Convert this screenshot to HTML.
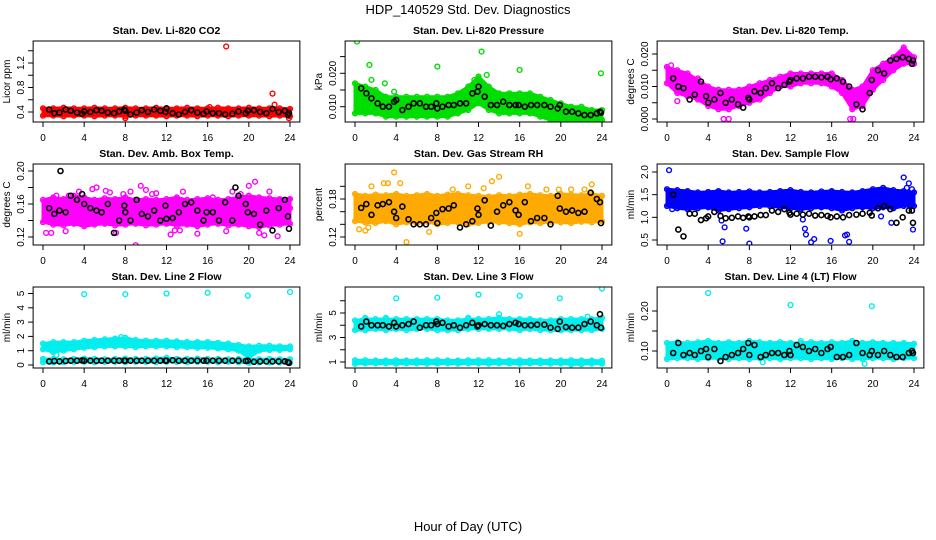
<!DOCTYPE html>
<html><head><meta charset="utf-8">
<style>
html,body{margin:0;padding:0;background:#fff;}
svg{display:block;font-family:"Liberation Sans",Arial,sans-serif;}
</style></head>
<body>
<svg id="chart" width="936" height="540" viewBox="0 0 936 540">
<rect x="0" y="0" width="936" height="540" fill="#fff"/>
<text x="468" y="14" font-size="13" text-anchor="middle">HDP_140529  Std. Dev. Diagnostics</text>
<text x="468" y="531" font-size="13" text-anchor="middle">Hour of Day (UTC)</text>
<g id="panels"></g>
</svg>
<script>
// ---- data ----
const bandHours = [0,1,2,3,4,5,6,7,8,9,10,11,12,13,14,15,16,17,18,19,20,21,22,23,24];
const blackHours = [0.6,1.1,1.6,2.2,2.7,3.3,3.8,4.0,4.6,5.2,5.7,6.3,6.9,7.4,7.9,8.0,8.5,9.1,9.6,10.2,10.8,11.4,11.9,12.0,12.6,13.2,13.8,14.4,15.0,15.6,15.9,16.5,17.1,17.7,18.4,19.0,19.7,19.9,20.5,21.1,21.7,22.3,22.9,23.5,23.8,23.9];

const co2Hi = [.46,.46,.47,.46,.46,.47,.46,.46,.47,.46,.46,.47,.46,.46,.47,.46,.46,.47,.46,.46,.47,.46,.46,.46,.45];
const co2Lo = [.34,.34,.33,.34,.34,.33,.34,.34,.33,.34,.34,.34,.33,.34,.34,.33,.34,.34,.33,.34,.34,.34,.33,.34,.33];
const co2Black = [.44,.38,.39,.44,.42,.39,.37,.41,.40,.43,.42,.39,.38,.41,.44,.42,.36,.39,.43,.40,.44,.42,.40,.46,.38,.36,.40,.43,.39,.37,.41,.38,.38,.36,.37,.41,.38,.42,.43,.40,.38,.45,.40,.42,.35,.38];
const co2OutT = [17.8,22.3,22.5,23.9,8.0,16.2];
const co2OutV = [1.47,0.70,0.52,0.30,0.30,0.48];

const presHi = [.017,.016,.015,.013,.013,.013,.013,.013,.013,.013,.014,.016,.019,.016,.014,.014,.014,.014,.013,.012,.011,.010,.010,.009,.009];
const presLo = [.008,.008,.008,.007,.007,.007,.007,.007,.007,.007,.008,.009,.011,.009,.008,.008,.008,.008,.007,.006,.0055,.0055,.0055,.0055,.006];
const presBlack = [.0155,.014,.0125,.011,.010,.010,.0115,.012,.009,.010,.011,.011,.010,.010,.011,.0095,.010,.0105,.0105,.011,.011,.014,.0145,.016,.013,.0105,.0105,.0115,.0105,.0105,.0105,.010,.0105,.0105,.0105,.010,.0095,.0105,.0085,.0085,.008,.0075,.0075,.008,.0085,.0082];
const presOutT = [0.2,1.4,1.6,2.9,3.8,8.0,12.3,12.8,16.0,23.9,11.6];
const presOutV = [.0295,.0225,.018,.017,.0145,.022,.0265,.0195,.021,.0200,.018];

const tempHi = [.016,.015,.014,.012,.010,.009,.009,.009,.010,.011,.012,.013,.014,.014,.014,.014,.014,.012,.009,.010,.015,.017,.019,.022,.019];
const tempLo = [.011,.008,.007,.006,.004,.003,.003,.004,.005,.006,.008,.010,.010,.011,.011,.011,.010,.008,.003,.004,.009,.012,.015,.017,.017];
const tempBlack = [.0125,.010,.0095,.006,.0075,.0115,.007,.005,.006,.008,.005,.006,.0045,.0035,.0065,.006,.0085,.008,.0095,.011,.0095,.0105,.0115,.012,.0125,.0125,.013,.013,.0128,.013,.0122,.0125,.0115,.010,.0045,.003,.008,.012,.015,.014,.018,.0185,.019,.0185,.017,.018];
const tempOutT = [5.5,6.0,17.8,18.1,3.0,0.4,1.0];
const tempOutV = [0,0,0,0,.0125,.0165,.0055];

const ambHi = [.165,.168,.166,.170,.168,.165,.167,.166,.168,.165,.166,.165,.166,.168,.165,.166,.167,.165,.166,.168,.170,.168,.167,.166,.166];
const ambLo = [.138,.135,.134,.136,.133,.135,.136,.134,.135,.136,.134,.135,.136,.134,.135,.133,.135,.136,.134,.135,.133,.132,.134,.135,.136];
const ambBlack = [.155,.148,.152,.150,.170,.165,.172,.160,.155,.152,.150,.160,.125,.140,.158,.150,.140,.165,.148,.145,.152,.140,.158,.142,.143,.150,.160,.162,.152,.140,.150,.150,.140,.162,.140,.170,.160,.150,.148,.135,.152,.128,.155,.165,.145,.130];
const ambOutT = [0.3,0.8,1.3,2.2,3.5,5.2,6.1,7.1,8.5,9.0,9.5,10.0,11.0,12.4,13.6,14.0,15.0,16.5,17.8,19.2,20.0,20.6,21.5,22.0,22.8,23.9,2.5,4.8,7.8,10.6,13.3,18.4,21.0,24.0,6.5,12.8];
const ambOutV = [.125,.125,.170,.127,.175,.180,.176,.125,.175,.110,.182,.177,.173,.123,.175,.160,.124,.168,.127,.172,.182,.187,.122,.175,.121,.165,.170,.178,.172,.172,.128,.175,.125,.155,.174,.128];
const ambBlackOutT = [1.7,18.7];
const ambBlackOutV = [.200,.180];

const rhHi = [.188,.185,.187,.186,.188,.185,.186,.188,.185,.187,.188,.186,.185,.184,.186,.185,.187,.188,.186,.185,.188,.187,.186,.188,.185];
const rhLo = [.145,.143,.142,.145,.140,.143,.142,.144,.140,.142,.143,.140,.142,.144,.143,.142,.140,.143,.142,.144,.143,.142,.144,.143,.145];
const rhBlack = [.166,.172,.155,.170,.172,.175,.160,.150,.168,.148,.140,.140,.140,.150,.158,.142,.164,.165,.170,.135,.140,.145,.165,.155,.178,.138,.160,.170,.175,.162,.155,.175,.145,.150,.150,.140,.185,.165,.160,.162,.158,.160,.190,.180,.175,.142];
const rhOutT = [0.4,1.0,1.6,2.8,3.8,4.4,5.4,7.2,9.5,11.0,13.3,14.0,16.0,16.8,19.8,22.3,23.0,5.0,12.5,1.3,18.6,3.2,21.0];
const rhOutV = [.132,.130,.200,.205,.222,.205,.155,.128,.195,.200,.208,.215,.125,.200,.195,.195,.203,.112,.197,.135,.195,.205,.195];

const sfHi = [1.62,1.60,1.58,1.55,1.56,1.58,1.55,1.56,1.57,1.55,1.56,1.58,1.60,1.56,1.55,1.57,1.58,1.56,1.55,1.58,1.62,1.65,1.60,1.58,1.55];
const sfLo = [1.25,1.20,1.18,1.20,1.22,1.15,1.18,1.20,1.22,1.25,1.25,1.22,1.20,1.18,1.20,1.22,1.20,1.15,1.20,1.22,1.20,1.22,1.20,1.25,1.25];
const sfBlack = [1.50,.73,.58,1.08,1.08,.94,.98,1.02,1.12,1.03,.98,.99,1.02,.99,1.02,1.0,1.02,1.05,1.05,1.15,1.12,1.18,1.10,1.06,1.08,1.06,1.08,1.04,1.05,1.03,1.0,1.02,1.0,1.05,1.06,1.08,1.1,1.04,1.2,1.25,1.18,.88,1.0,1.15,1.15,.88];
const sfOutT = [0.2,0.5,5.3,5.4,5.6,7.7,8.0,13.4,13.5,14.0,14.3,15.9,17.3,17.5,17.7,21.8,23.0,23.3,23.5,23.8,23.9,13.2,20.8];
const sfOutV = [2.04,1.18,.93,.47,.78,.75,.42,.75,.62,.45,.52,.48,.60,.62,.46,.88,1.88,1.65,1.75,1.62,.73,.95,1.02];

const l2Hi = [1.5,1.6,1.6,1.6,1.7,1.75,1.8,1.85,1.9,1.75,1.7,1.7,1.7,1.65,1.6,1.6,1.6,1.55,1.5,1.4,1.3,1.35,1.35,1.3,1.3];
const l2Lo = [1.1,0.9,1.0,1.1,1.2,1.25,1.3,1.3,1.3,1.25,1.3,1.3,1.3,1.25,1.25,1.2,1.2,1.15,1.1,1.0,0.5,1.0,1.05,1.05,1.1];
const l2LowHi = [.42,.42,.40,.42,.45,.42,.40,.42,.45,.42,.42,.45,.50,.42,.42,.45,.42,.42,.40,.42,.40,.40,.42,.40,.40];
const l2LowLo = [.20,.18,.20,.22,.22,.20,.22,.22,.20,.22,.22,.20,.22,.22,.20,.22,.22,.20,.22,.20,.15,.18,.18,.18,.15];
const l2Black = [.25,.28,.25,.28,.30,.30,.32,.30,.30,.29,.30,.30,.30,.30,.30,.30,.30,.30,.30,.30,.30,.30,.30,.30,.33,.30,.30,.30,.30,.30,.30,.30,.30,.30,.30,.30,.28,.30,.22,.25,.25,.25,.25,.25,.20,.15];
const l2OutT = [4.0,8.0,12.0,16.0,19.9,24.0,7.6,1.3];
const l2OutV = [4.95,4.95,5.0,5.05,4.85,5.1,1.95,0.7];

const l3Hi = [4.4,4.5,4.5,4.5,4.5,4.5,4.5,4.5,4.5,4.4,4.4,4.5,4.5,4.5,4.6,4.5,4.5,4.5,4.4,4.4,4.5,4.5,4.5,4.5,4.6];
const l3Lo = [3.6,3.6,3.7,3.6,3.7,3.6,3.7,3.7,3.6,3.6,3.6,3.7,3.7,3.7,3.7,3.7,3.6,3.7,3.6,3.6,3.6,3.6,3.6,3.6,3.7];
const l3LowHi = [1.15,1.15,1.12,1.12,1.15,1.12,1.12,1.15,1.15,1.12,1.12,1.15,1.15,1.15,1.12,1.12,1.15,1.12,1.12,1.12,1.12,1.15,1.12,1.12,1.1];
const l3LowLo = [0.85,0.88,0.88,0.88,0.86,0.88,0.88,0.86,0.88,0.88,0.86,0.88,0.88,0.86,0.88,0.88,0.86,0.88,0.88,0.86,0.88,0.8,0.82,0.86,0.86];
const l3Black = [3.9,4.3,4.0,4.0,4.0,3.9,4.2,3.9,4.0,4.1,4.3,3.8,4.0,4.0,4.3,4.1,4.2,3.9,4.0,3.8,4.0,4.2,3.9,4.0,4.1,4.0,4.0,3.95,4.1,4.2,4.1,4.0,4.0,4.05,4.05,3.8,3.7,4.3,3.85,3.8,3.8,4.1,4.3,4.0,4.9,3.8];
const l3OutT = [4.0,8.0,12.0,16.0,19.9,24.0,1.0,3.0,14.0,11.0,22.6];
const l3OutV = [6.2,6.25,6.5,6.4,6.2,7.0,4.6,4.6,4.9,4.6,4.7];

const l4Hi = [.12,.122,.12,.122,.125,.12,.122,.12,.125,.122,.12,.122,.12,.12,.122,.12,.122,.12,.125,.12,.122,.12,.12,.12,.118];
const l4Lo = [.08,.082,.082,.08,.082,.082,.08,.082,.08,.082,.082,.08,.082,.082,.08,.082,.08,.082,.08,.08,.082,.082,.08,.082,.082];
const l4Black = [.095,.12,.09,.095,.09,.10,.105,.085,.105,.075,.085,.09,.095,.105,.12,.09,.115,.085,.09,.095,.095,.09,.10,.09,.115,.11,.10,.105,.095,.105,.11,.085,.085,.09,.12,.095,.09,.10,.09,.10,.09,.085,.085,.095,.10,.095];
const l4OutT = [4.0,12.0,19.9,9.3,19.2,16.0,13.0];
const l4OutV = [.245,.215,.212,.072,.068,.085,.125];

// ---- layout ----
const colX0 = [43,355,667], perHour = 247/24, rowTop = [41,164,287], boxH = 81;
const NS = 'http://www.w3.org/2000/svg';
const root = document.getElementById('panels');
function mk(tag, attrs, parent){ const e=document.createElementNS(NS,tag); for(const k in attrs) e.setAttribute(k,attrs[k]); (parent||root).appendChild(e); return e; }

const panels = [
 {id:'co2',title:'Stan. Dev. Li-820 CO2',ylab:'Licor ppm',c:0,r:0,col:'#ff0000',ya:[0.4,112],yb:[1.2,63],ticks:[0.4,0.6,0.8,1.0,1.2,1.4],labs:[0.4,0.8,1.2],fmt:1,bands:[[co2Hi,co2Lo]],black:co2Black,ot:co2OutT,ov:co2OutV},
 {id:'pressure',title:'Stan. Dev. Li-820 Pressure',ylab:'kPa',c:1,r:0,col:'#00dd00',ya:[0.010,106.7],yb:[0.020,73.3],ticks:[0.010,0.015,0.020,0.025],labs:[0.010,0.020],fmt:3,bands:[[presHi,presLo]],black:presBlack,ot:presOutT,ov:presOutV},
 {id:'temp',title:'Stan. Dev. Li-820 Temp.',ylab:'degrees C',c:2,r:0,col:'#ff00ff',ya:[0,119],yb:[0.010,86.5],ticks:[0,0.005,0.010,0.015,0.020],labs:[0,0.010,0.020],fmt:3,bands:[[tempHi,tempLo]],black:tempBlack,ot:tempOutT,ov:tempOutV},
 {id:'amb-box-temp',title:'Stan. Dev. Amb. Box Temp.',ylab:'degrees C',c:0,r:1,col:'#ff00ff',ya:[0.12,237],yb:[0.20,171],ticks:[0.12,0.14,0.16,0.18,0.20],labs:[0.12,0.16,0.20],fmt:2,bands:[[ambHi,ambLo]],black:ambBlack,ot:ambOutT,ov:ambOutV,bot:ambBlackOutT,bov:ambBlackOutV},
 {id:'gas-stream-rh',title:'Stan. Dev. Gas Stream RH',ylab:'percent',c:1,r:1,col:'#ffaa00',ya:[0.12,237],yb:[0.18,199],ticks:[0.12,0.14,0.16,0.18,0.20],labs:[0.12,0.18],fmt:2,bands:[[rhHi,rhLo]],black:rhBlack,ot:rhOutT,ov:rhOutV},
 {id:'sample-flow',title:'Stan. Dev. Sample Flow',ylab:'ml/min',c:2,r:1,col:'#0000ff',ya:[0.5,240],yb:[2.0,172],ticks:[0.5,1.0,1.5,2.0],labs:[0.5,1.0,1.5,2.0],fmt:1,bands:[[sfHi,sfLo]],black:sfBlack,ot:sfOutT,ov:sfOutV},
 {id:'line2-flow',title:'Stan. Dev. Line 2 Flow',ylab:'ml/min',c:0,r:2,col:'#00eeee',ya:[0,365],yb:[5,293.5],ticks:[0,1,2,3,4,5],labs:[0,1,2,3,4,5],fmt:0,bands:[[l2Hi,l2Lo],[l2LowHi,l2LowLo]],black:l2Black,ot:l2OutT,ov:l2OutV},
 {id:'line3-flow',title:'Stan. Dev. Line 3 Flow',ylab:'ml/min',c:1,r:2,col:'#00eeee',ya:[1,362],yb:[5,313],ticks:[1,2,3,4,5,6],labs:[1,3,5],fmt:0,bands:[[l3Hi,l3Lo],[l3LowHi,l3LowLo]],black:l3Black,ot:l3OutT,ov:l3OutV},
 {id:'line4-flow',title:'Stan. Dev. Line 4 (LT) Flow',ylab:'ml/min',c:2,r:2,col:'#00eeee',ya:[0.10,351],yb:[0.20,311],ticks:[0.10,0.15,0.20],labs:[0.10,0.20],fmt:2,bands:[[l4Hi,l4Lo]],black:l4Black,ot:l4OutT,ov:l4OutV}
];

panels.forEach(p=>{
  const x0 = colX0[p.c], top = rowTop[p.r], bottom = top+boxH;
  const left = x0 - 0.96*perHour, right = x0 + 24.96*perHour;
  const X = h => x0 + h*perHour;
  const Y = v => p.ya[1] + (v - p.ya[0])*(p.yb[1]-p.ya[1])/(p.yb[0]-p.ya[0]);
  const g = mk('g',{});
  
  
  const t = mk('text',{x:(left+right)/2,y:top-7,'font-size':10.5,'font-weight':'bold','text-anchor':'middle'},g);
  t.textContent = p.title;
  
  
  const clip = mk('clipPath',{id:'clip-'+p.id},g);
  mk('rect',{x:left,y:top,width:right-left,height:boxH},clip);
  const pts = mk('g',{'clip-path':'url(#clip-'+p.id+')'},g);
  
  
  p.bands.forEach((b,bi)=>{
    const hi=b[0], lo=b[1];
    let d='';
    bandHours.forEach((h,i)=>{ d += (i?'L':'M')+X(h).toFixed(1)+','+Y(hi[i]).toFixed(1); });
    for(let i=bandHours.length-1;i>=0;i--) d += 'L'+X(bandHours[i]).toFixed(1)+','+Y(lo[i]).toFixed(1);
    const band = mk('path',{d:d+'Z',fill:p.col,stroke:p.col,'stroke-width':3},pts);
    
    
    bandHours.forEach((h,i)=>{
      [hi[i],lo[i]].forEach(v=>{
        const c = mk('circle',{cx:X(h),cy:Y(v),r:2.4,fill:'none',stroke:p.col,'stroke-width':1.4},pts);
        
        
      });
    });
  });
  p.ot.forEach((h,i)=>{
    const c = mk('circle',{cx:X(h),cy:Y(p.ov[i]),r:2.4,fill:'none',stroke:p.col,'stroke-width':1.4},pts);
    
    
  });
  const n = Math.min(blackHours.length, p.black.length);
  for(let i=0;i<n;i++){
    const c = mk('circle',{cx:X(blackHours[i]),cy:Y(p.black[i]),r:2.5,fill:'none',stroke:'#000','stroke-width':1.6},pts);
    
    
  }
  if(p.bot) p.bot.forEach((h,i)=>{
    const c = mk('circle',{cx:X(h),cy:Y(p.bov[i]),r:2.5,fill:'none',stroke:'#000','stroke-width':1.6},pts);
    
    
  });
  const box = mk('rect',{x:left,y:top,width:right-left,height:boxH,fill:'none',stroke:'#000','stroke-width':1},g);
  
  
  // x axis
  [0,4,8,12,16,20,24].forEach(h=>{
    mk('line',{x1:X(h),x2:X(h),y1:bottom,y2:bottom+5,stroke:'#000'},g);
    const tl = mk('text',{x:X(h),y:bottom+19,'font-size':10,'text-anchor':'middle'},g);
    tl.textContent = h;
    
    
  });
  // y axis
  p.ticks.forEach(v=>{
    const y = Y(v);
    if(y<top-1||y>bottom+1) return;
    mk('line',{x1:left-5,x2:left,y1:y,y2:y,stroke:'#000'},g);
  });
  p.labs.forEach(v=>{
    const y = Y(v);
    const tl = mk('text',{x:0,y:0,'font-size':10,'text-anchor':'middle',transform:'translate('+(left-9)+','+y+') rotate(-90)'},g);
    tl.textContent = v.toFixed(p.fmt);
    
    
  });
  const yl = mk('text',{x:0,y:0,'font-size':10,'text-anchor':'middle',transform:'translate('+(left-23)+','+(top+boxH/2)+') rotate(-90)'},g);
  yl.textContent = p.ylab;
  
  
});
</script>
</body></html>
